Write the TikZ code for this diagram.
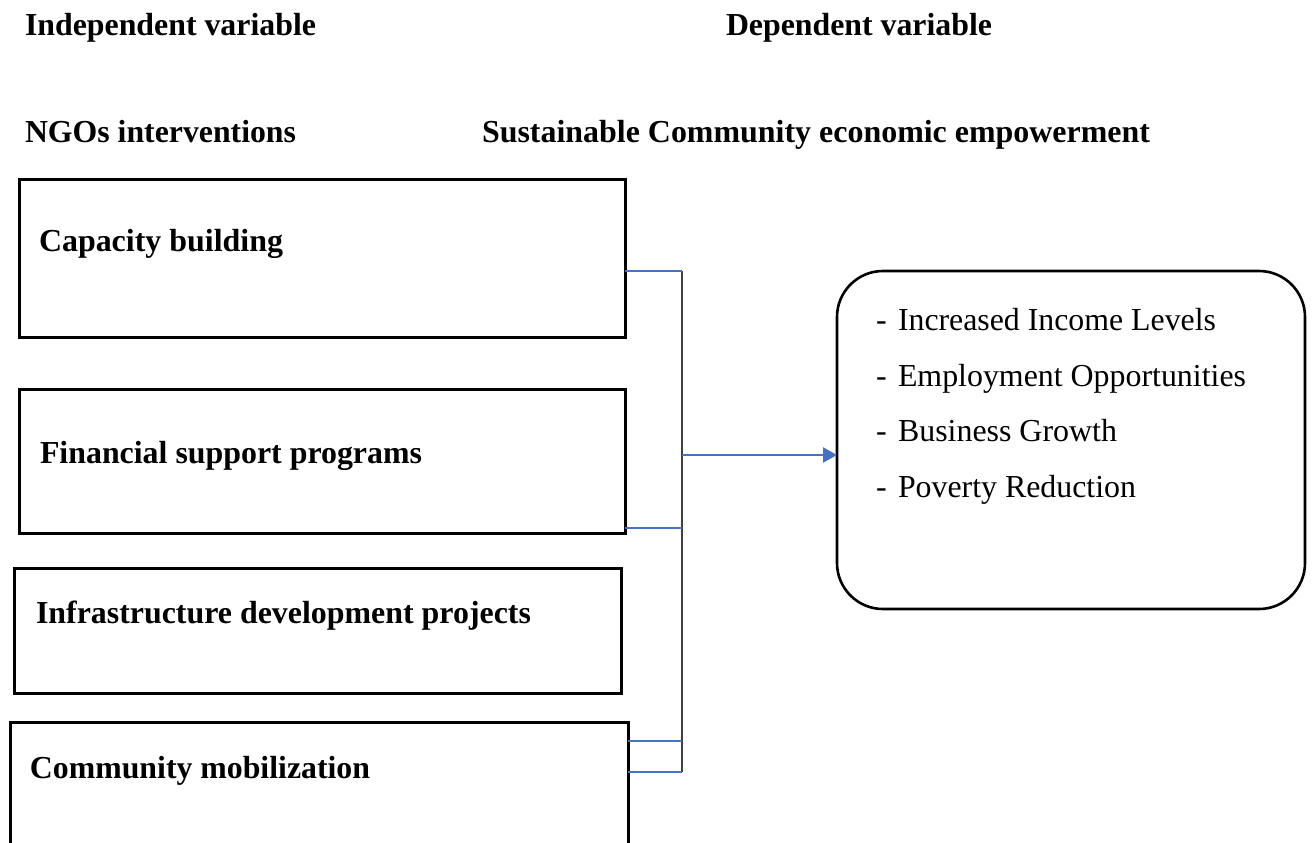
\documentclass[tikz,border=0pt]{standalone}
\usepackage{fontspec}
\setmainfont{Liberation Serif}
\usepackage{graphicx}
\usetikzlibrary{arrows.meta}
\definecolor{lineblue}{HTML}{4472C4}
\newcommand\fitto[2]{\resizebox{#1pt}{\height}{#2}}
\begin{document}
\begin{tikzpicture}[x=1pt,y=-1pt,
  every node/.style={inner sep=0pt, outer sep=0pt},
  lbl/.style={anchor=base west, font=\fontsize{32}{38}\selectfont\bfseries},
  itm/.style={anchor=base west, font=\fontsize{32}{38}\selectfont},
  varbox/.style={draw=black, line width=3pt, rectangle},
  busline/.style={draw=black!75, line width=1.5pt},
  feed/.style={draw=lineblue, line width=1.5pt},
  outarrow/.style={draw=lineblue, line width=2.6pt, -{Triangle[length=14pt,width=15pt]}}]
\useasboundingbox (0,0) rectangle (1312,843);
% headers
\node[lbl] (iv) at (25,36) {\fitto{291}{Independent variable}};
\node[lbl] (dv) at (726,36) {\fitto{266}{Dependent variable}};
\node[lbl] (ngo) at (25,142) {\fitto{271}{NGOs interventions}};
\node[lbl] (sce) at (482,142) {\fitto{668}{Sustainable Community economic empowerment}};
% boxes
\node[varbox, minimum width=606pt, minimum height=158pt] (cap) at (322,258) {};
\node[varbox, minimum width=606pt, minimum height=144pt] (fin) at (322,461) {};
\node[varbox, minimum width=607pt, minimum height=125pt] (inf) at (317.5,630.5) {};
\node[varbox, minimum width=618pt, minimum height=150pt] (com) at (319,797) {};
\node[lbl] (capt) at (39,251) {\fitto{244}{Capacity building}};
\node[lbl] (fint) at (40,463) {\fitto{382}{Financial support programs}};
\node[lbl] (inft) at (36,623) {\fitto{495}{Infrastructure development projects}};
\node[lbl] (comt) at (30,778) {\fitto{340}{Community mobilization}};
% outcome box
\node[draw=black, line width=2.6pt, rounded corners=46pt, minimum width=468pt, minimum height=338pt] (out) at (1071,440) {};
\node[itm] (d1) at (876,330) {-};
\node[itm] (d2) at (876,386) {-};
\node[itm] (d3) at (876,441) {-};
\node[itm] (d4) at (876,497) {-};
\node[itm] (o1) at (898,330) {\fitto{318}{Increased Income Levels}};
\node[itm] (o2) at (898,386) {\fitto{348}{Employment Opportunities}};
\node[itm] (o3) at (898,441) {\fitto{219}{Business Growth}};
\node[itm] (o4) at (898,497) {\fitto{238}{Poverty Reduction}};
% bus
\coordinate (b1) at (682,271);
\coordinate (b2) at (682,528);
\coordinate (b3) at (682,741);
\coordinate (b4) at (682,772);
\coordinate (bm) at (682,455);
\draw[busline] (b1) -- (b4);
\draw[feed] (cap.east |- b1) -- (b1);
\draw[feed] (fin.east |- b2) -- (b2);
\draw[feed] (com.east |- b3) -- (b3);
\draw[feed] (com.east |- b4) -- (b4);
\draw[outarrow] (bm) -- (out.west |- bm);
\end{tikzpicture}
\end{document}
